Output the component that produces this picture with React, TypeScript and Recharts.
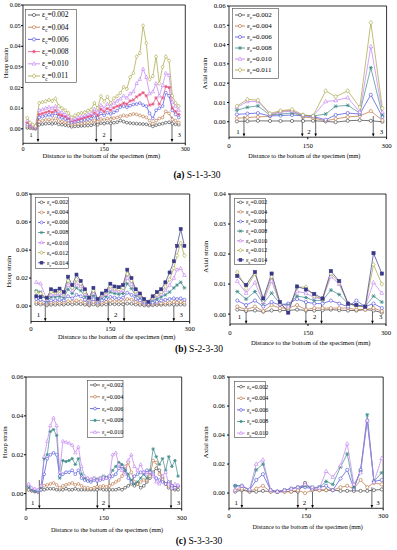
import React from 'react';
import { LineChart, Line, XAxis, YAxis, ReferenceLine, ReferenceDot, Legend } from 'recharts';

const FONT = '"Liberation Serif", "Times New Roman", Times, serif';

// ================= DATA =================
const xTicks = [0, 150, 300];
const zoneLabels = ['1', '2', '3'];
const xTitleText = 'Distance to the bottom of the specimen (mm)';
const captions = ['(a)', '(b)', '(c)'];
const specimenNames = ['S-1-3-30', 'S-2-3-30', 'S-3-3-30'];

// ---- (a) left: hoop strain S-1-3-30 ----
const aL_x = [8, 13, 18, 23, 30, 36, 42, 48, 54, 60, 66, 72, 78, 84, 90, 96, 102, 108, 114, 120, 126, 132, 138, 144, 150, 156, 162, 168, 174, 180, 186, 192, 198, 204, 210, 216, 222, 228, 234, 240, 246, 252, 258, 264, 270, 276, 282, 288];
const aL_e002 = [0.0005, 0.0004, 0.0002, 0, 0.002, 0.0023, 0.0025, 0.0027, 0.0024, 0.0028, 0.0022, 0.002, 0.0018, 0.0015, 0.001, 0.0012, 0.0013, 0.0014, 0.0015, 0.0016, 0.0017, 0.0023, 0.002, 0.0028, 0.0025, 0.003, 0.0027, 0.003, 0.0032, 0.004, 0.0035, 0.003, 0.0028, 0.0026, 0.0025, 0.0024, 0.0023, 0.0022, 0.0018, 0.0012, 0.0018, 0.0022, 0.0025, 0.003, 0.0032, 0.0025, 0.0022, 0.002];
const aL_e004 = [0.0012, 0.001, 0.0006, 0.0003, 0.0035, 0.004, 0.0043, 0.0046, 0.0042, 0.005, 0.0038, 0.0035, 0.0032, 0.0028, 0.002, 0.0023, 0.0025, 0.0027, 0.0029, 0.0031, 0.0033, 0.0042, 0.0035, 0.0048, 0.0043, 0.005, 0.0046, 0.0052, 0.0055, 0.006, 0.0065, 0.0062, 0.0068, 0.0072, 0.007, 0.0065, 0.006, 0.0055, 0.004, 0.0025, 0.004, 0.005, 0.0055, 0.0085, 0.0075, 0.0045, 0.004, 0.003];
const aL_e006 = [0.002, 0.0015, 0.001, 0.0005, 0.0055, 0.006, 0.0063, 0.0068, 0.0063, 0.0075, 0.0058, 0.0053, 0.0048, 0.004, 0.003, 0.0034, 0.0037, 0.004, 0.0043, 0.0047, 0.005, 0.0063, 0.0053, 0.0075, 0.0065, 0.0078, 0.0072, 0.008, 0.0088, 0.0105, 0.011, 0.0105, 0.0112, 0.0118, 0.012, 0.0125, 0.0115, 0.011, 0.0075, 0.005, 0.009, 0.01, 0.011, 0.0175, 0.016, 0.009, 0.007, 0.0055];
const aL_e008 = [0.003, 0.002, 0.0012, 0.0008, 0.007, 0.0075, 0.008, 0.0085, 0.008, 0.009, 0.007, 0.0065, 0.006, 0.005, 0.0038, 0.0042, 0.0046, 0.005, 0.0055, 0.006, 0.0063, 0.0078, 0.0065, 0.0095, 0.0083, 0.0098, 0.009, 0.0102, 0.011, 0.0115, 0.0125, 0.012, 0.0135, 0.014, 0.0155, 0.0165, 0.0175, 0.016, 0.0115, 0.012, 0.015, 0.012, 0.015, 0.0205, 0.02, 0.01, 0.0085, 0.007];
const aL_e010 = [0.004, 0.0025, 0.0015, 0.001, 0.009, 0.0095, 0.01, 0.0105, 0.01, 0.011, 0.0085, 0.008, 0.007, 0.006, 0.0045, 0.005, 0.0055, 0.006, 0.0065, 0.007, 0.0075, 0.0095, 0.008, 0.0115, 0.01, 0.012, 0.011, 0.0125, 0.0135, 0.0145, 0.016, 0.015, 0.017, 0.018, 0.022, 0.024, 0.029, 0.025, 0.017, 0.018, 0.022, 0.016, 0.021, 0.027, 0.026, 0.013, 0.011, 0.009];
const aL_e011 = [0.0053, 0.003, 0.002, 0.0013, 0.0125, 0.013, 0.0133, 0.014, 0.0135, 0.0147, 0.011, 0.01, 0.009, 0.0077, 0.0055, 0.0065, 0.0072, 0.0077, 0.008, 0.0088, 0.0093, 0.0125, 0.01, 0.0158, 0.0133, 0.0155, 0.0125, 0.0148, 0.0158, 0.0174, 0.0203, 0.0193, 0.025, 0.027, 0.035, 0.0367, 0.05, 0.0415, 0.024, 0.0255, 0.035, 0.022, 0.03, 0.035, 0.033, 0.016, 0.0125, 0.011];
const aL_arrows = [27.7, 135.5, 162.6, 275.4];
const aL_zoneX = [15, 150, 289];
const aL_yTicks = [0, 0.01, 0.02, 0.03, 0.04, 0.05, 0.06];

// ---- (a) right: axial strain S-1-3-30 ----
const aR_x = [15, 35, 55, 78, 98, 120, 141, 160, 184, 203, 226, 249, 270, 292];
const aR_e002 = [0.0002, 0.0003, 0.0005, 0.0004, 0.0004, 0.0004, 0.0004, 0.0005, 0.0002, -0.0002, 0.0005, 0.0008, 0.0005, 0];
const aR_e004 = [0.0018, 0.0022, 0.0025, 0.0028, 0.0055, 0.0058, 0.0025, 0.002, 0.0005, 0.0015, 0.0025, 0.003, 0.0055, 0.0008];
const aR_e006 = [0.0038, 0.0042, 0.0045, 0.003, 0.0032, 0.0035, 0.003, 0.0028, 0.001, 0.0035, 0.0045, 0.004, 0.014, 0.0025];
const aR_e008 = [0.006, 0.0075, 0.0082, 0.0035, 0.004, 0.0045, 0.0033, 0.003, 0.004, 0.008, 0.0085, 0.0045, 0.028, 0.0035];
const aR_e010 = [0.0075, 0.0105, 0.0105, 0.004, 0.005, 0.0055, 0.0035, 0.003, 0.0105, 0.011, 0.0125, 0.005, 0.039, 0.005];
const aR_e011 = [0.0081, 0.0116, 0.0112, 0.0043, 0.0057, 0.0064, 0.0035, 0.003, 0.016, 0.013, 0.016, 0.0075, 0.0514, 0.007];
const aR_arrows = [28.5, 139.5, 165, 274.6];
const aR_zoneX = [17, 152, 290];
const aR_yTicks = [0, 0.01, 0.02, 0.03, 0.04, 0.05, 0.06];

// ---- (b) left: hoop strain S-2-3-30 ----
const bL_x = [10, 18, 30, 38, 46, 54, 62, 70, 78, 86, 94, 102, 110, 118, 126, 134, 142, 150, 158, 166, 174, 182, 190, 198, 206, 214, 222, 230, 238, 246, 254, 262, 270, 276, 283, 290];
const bL_e002 = [0.0015, 0.0012, 0.0005, 0.001, 0.001, 0.0012, 0.001, 0.0015, 0.0012, 0.0016, 0.0014, 0.001, 0.0005, 0.0012, 0.0005, 0.001, 0.0012, 0.0015, 0.0013, 0.0013, 0.0013, 0.0018, 0.0016, 0.0011, 0.0009, 0.0005, 0.0003, 0.0006, 0.0008, 0.0009, 0.001, 0.001, 0.0011, 0.001, 0.0011, 0.001];
const bL_e004 = [0.003, 0.0025, 0.0015, 0.0025, 0.0025, 0.0025, 0.0025, 0.0035, 0.003, 0.004, 0.0035, 0.0025, 0.0015, 0.003, 0.0015, 0.0025, 0.003, 0.004, 0.0035, 0.0035, 0.0035, 0.005, 0.0045, 0.003, 0.0025, 0.0015, 0.001, 0.0015, 0.002, 0.002, 0.0025, 0.0025, 0.003, 0.0025, 0.003, 0.0025];
const bL_e006 = [0.005, 0.0045, 0.0025, 0.004, 0.004, 0.0045, 0.004, 0.007, 0.0055, 0.008, 0.007, 0.0045, 0.0025, 0.005, 0.0025, 0.004, 0.005, 0.0065, 0.006, 0.0055, 0.006, 0.0095, 0.008, 0.005, 0.004, 0.0025, 0.0015, 0.0025, 0.003, 0.004, 0.0045, 0.005, 0.0055, 0.005, 0.0055, 0.0045];
const bL_e008 = [0.011, 0.01, 0.0035, 0.0065, 0.0065, 0.007, 0.006, 0.012, 0.009, 0.013, 0.011, 0.007, 0.0035, 0.0075, 0.0035, 0.006, 0.007, 0.01, 0.009, 0.0085, 0.009, 0.016, 0.0125, 0.0075, 0.006, 0.0035, 0.0025, 0.004, 0.005, 0.0065, 0.008, 0.01, 0.013, 0.015, 0.017, 0.013];
const bL_e010 = [0.017, 0.016, 0.0045, 0.008, 0.008, 0.009, 0.0075, 0.015, 0.011, 0.016, 0.014, 0.0085, 0.004, 0.009, 0.004, 0.007, 0.0085, 0.012, 0.011, 0.0105, 0.011, 0.02, 0.0155, 0.009, 0.007, 0.004, 0.0025, 0.005, 0.007, 0.0085, 0.011, 0.015, 0.02, 0.026, 0.027, 0.022];
const bL_e012 = [0.01, 0.009, 0.0055, 0.01, 0.0095, 0.011, 0.009, 0.018, 0.013, 0.019, 0.016, 0.01, 0.005, 0.011, 0.0045, 0.008, 0.01, 0.014, 0.0125, 0.012, 0.013, 0.023, 0.018, 0.0105, 0.008, 0.0045, 0.003, 0.006, 0.008, 0.01, 0.014, 0.019, 0.027, 0.036, 0.045, 0.036];
const bL_e014 = [0.007, 0.0065, 0.006, 0.012, 0.011, 0.0125, 0.01, 0.021, 0.015, 0.0225, 0.018, 0.012, 0.006, 0.013, 0.005, 0.009, 0.011, 0.016, 0.014, 0.0135, 0.015, 0.026, 0.02, 0.012, 0.009, 0.005, 0.003, 0.007, 0.01, 0.012, 0.017, 0.024, 0.032, 0.043, 0.055, 0.043];
const bL_arrows = [27, 146, 176, 270];
const bL_zoneX = [14, 160, 284];
const bL_yTicks = [0, 0.02, 0.04, 0.06, 0.08];

// ---- (b) right: axial strain S-2-3-30 ----
const bR_x = [14, 31, 48, 64, 80, 96, 112, 129, 146, 162, 178, 194, 210, 227, 243, 260, 276, 292];
const bR_e002 = [0.0015, 0.001, 0.0012, 0.0008, 0.0012, 0.0012, 0.0012, 0.0015, 0.0012, 0.0012, 0.0013, 0.0015, 0.0013, 0.0012, 0.0012, 0.0015, 0.0012, 0.0005];
const bR_e004 = [0.0025, 0.0015, 0.0025, 0.001, 0.003, 0.002, 0.002, 0.003, 0.0015, 0.002, 0.002, 0.002, 0.002, 0.002, 0.0015, 0.0015, 0.002, 0.001];
const bR_e006 = [0.0045, 0.003, 0.0045, 0.0025, 0.004, 0.003, 0.0035, 0.005, 0.004, 0.0035, 0.0035, 0.0045, 0.0035, 0.0025, 0.0045, 0.0025, 0.0035, 0.002];
const bR_e008 = [0.0075, 0.005, 0.0075, 0.0035, 0.007, 0.0035, 0.003, 0.006, 0.0055, 0.0045, 0.0045, 0.008, 0.0065, 0.0035, 0.003, 0.0025, 0.006, 0.004];
const bR_e010 = [0.011, 0.007, 0.0105, 0.004, 0.011, 0.0035, 0.0025, 0.0075, 0.007, 0.0055, 0.005, 0.0125, 0.01, 0.0035, 0.003, 0.0025, 0.0105, 0.007];
const bR_e012 = [0.014, 0.0085, 0.0135, 0.0045, 0.0125, 0.0035, 0.001, 0.009, 0.009, 0.006, 0.005, 0.0135, 0.0105, 0.0035, 0.0025, 0.0025, 0.0165, 0.01];
const bR_e014 = [0.0127, 0.0097, 0.014, 0.0052, 0.0135, 0.004, 0.0005, 0.0092, 0.0082, 0.0067, 0.0052, 0.0143, 0.011, 0.0035, 0.003, 0.0025, 0.0203, 0.0135];
const bR_arrows = [31, 146, 176, 274];
const bR_zoneX = [18, 163, 290];
const bR_yTicks = [0, 0.01, 0.02, 0.03, 0.04];

// ---- (c) left: hoop strain S-3-3-30 ----
const cL_x = [5, 11, 17, 23, 29, 35, 41, 47, 53, 59, 65, 71, 77, 83, 89, 95, 101, 107, 113, 119, 125, 131, 137, 143, 149, 155, 161, 167, 173, 179, 185, 191, 197, 203, 209, 215, 221, 227, 233, 239, 245, 251, 257, 263, 269, 275, 281, 287, 293];
const cL_e002 = [0.002, 0.0015, 0.001, 0.001, 0.002, 0.002, 0.0025, 0.0025, 0.0025, 0.002, 0.002, 0.002, 0.0025, 0.002, 0.002, 0.0025, 0.002, 0.002, 0.002, 0.002, 0.002, 0.002, 0.002, 0.0025, 0.002, 0.002, 0.002, 0.002, 0.002, 0.0025, 0.002, 0.003, 0.004, 0.005, 0.004, 0.005, 0.003, 0.004, 0.006, 0.008, 0.011, 0.013, 0.012, 0.008, 0.005, 0.003, 0.0025, 0.002, 0.002];
const cL_e004 = [0.002, 0.0015, 0.0015, 0.001, 0.0025, 0.004, 0.0045, 0.005, 0.0055, 0.0045, 0.003, 0.004, 0.0045, 0.005, 0.0055, 0.0045, 0.005, 0.004, 0.003, 0.003, 0.0025, 0.003, 0.0035, 0.0035, 0.004, 0.0035, 0.004, 0.005, 0.006, 0.007, 0.009, 0.014, 0.016, 0.011, 0.006, 0.005, 0.006, 0.007, 0.007, 0.009, 0.017, 0.016, 0.01, 0.007, 0.005, 0.004, 0.004, 0.003, 0.0035];
const cL_e006 = [0.004, 0.002, 0.0015, 0.001, 0.002, 0.01, 0.018, 0.02, 0.021, 0.02, 0.009, 0.01, 0.011, 0.011, 0.012, 0.01, 0.012, 0.008, 0.007, 0.0065, 0.006, 0.007, 0.0065, 0.007, 0.0075, 0.008, 0.008, 0.009, 0.01, 0.013, 0.014, 0.012, 0.008, 0.006, 0.009, 0.01, 0.011, 0.011, 0.012, 0.011, 0.01, 0.008, 0.007, 0.006, 0.005, 0.006, 0.004, 0.003, 0.004];
const cL_e008 = [0.003, 0.002, 0.0015, 0.0015, 0.003, 0.018, 0.02, 0.032, 0.033, 0.03, 0.008, 0.017, 0.0165, 0.017, 0.018, 0.015, 0.018, 0.01, 0.008, 0.0075, 0.007, 0.008, 0.0075, 0.008, 0.009, 0.0085, 0.009, 0.012, 0.014, 0.016, 0.015, 0.012, 0.01, 0.007, 0.005, 0.006, 0.008, 0.01, 0.008, 0.012, 0.023, 0.019, 0.015, 0.018, 0.012, 0.019, 0.014, 0.017, 0.009];
const cL_e010 = [0.005, 0.003, 0.0025, 0.002, 0.004, 0.019, 0.027, 0.035, 0.039, 0.035, 0.011, 0.027, 0.0265, 0.026, 0.025, 0.021, 0.024, 0.014, 0.009, 0.008, 0.0075, 0.008, 0.007, 0.008, 0.0085, 0.008, 0.009, 0.02, 0.021, 0.015, 0.012, 0.01, 0.017, 0.02, 0.014, 0.012, 0.015, 0.011, 0.01, 0.011, 0.009, 0.006, 0.005, 0.009, 0.011, 0.005, 0.003, 0.005, 0.0045];
const cL_arrows = [25.7, 137.5, 160, 279.5];
const cL_zoneX = [12.8, 149, 293.6];
const cL_yTicks = [0, 0.02, 0.04, 0.06];

// ---- (c) right: axial strain S-3-3-30 ----
const cR_x = [12, 25, 40, 53, 66, 81, 94, 108, 121, 134, 148, 162, 176, 189, 202, 217, 230, 243, 256, 269, 282, 297];
const cR_e002 = [0.001, 0.002, 0.001, 0.001, 0.0015, 0.001, 0.0008, 0.001, 0.001, 0.001, 0.007, 0.002, 0.002, 0.002, 0.002, 0.0015, 0.0015, 0.0015, 0.0015, 0.0015, 0.002, 0.0025];
const cR_e004 = [0.002, 0.003, 0.001, 0.003, 0.005, 0.001, 0.001, 0.001, 0.001, 0.002, 0, 0.002, 0.002, 0.002, 0.002, 0.004, 0.005, 0.003, 0.009, 0.004, 0.007, 0.006];
const cR_e006 = [0.005, 0.005, 0.002, 0.009, 0.013, 0.002, 0.001, 0.002, 0.003, 0.004, 0.004, 0.003, 0.004, 0.005, 0.002, 0.01, 0.016, 0.003, 0.016, 0.05, 0.008, 0.009];
const cR_e008 = [0.005, 0.005, 0.002, 0.016, 0.02, 0.002, 0.001, 0.002, 0.003, 0.004, 0.005, 0.004, 0.004, 0.008, 0.006, 0.018, 0.027, 0.004, 0.015, 0.054, 0.008, 0.014];
const cR_e010 = [0.002, 0.005, 0.0025, 0.02, 0.023, 0.002, 0.001, 0.002, 0.003, 0.004, 0.006, 0.004, 0.0035, 0.015, 0.011, 0.019, 0.034, 0.006, 0.014, 0.05, 0.0076, 0.024];
const cR_arrows = [25, 134, 162.5, 278];
const cR_zoneX = [13.8, 147, 290];
const cR_yTicks = [0, 0.02, 0.04, 0.06, 0.08];

// ================= STYLES =================
const STY: Record<string, { label: string; color: string; shape: string }> = {
  e002: { label: '0.002', color: '#3a3a3a', shape: 'circle' },
  e004: { label: '0.004', color: '#b86e3e', shape: 'circle' },
  e006: { label: '0.006', color: '#4848dc', shape: 'circle' },
  e008: { label: '0.008', color: '#3f8a8a', shape: 'star' },
  e010: { label: '0.010', color: '#c07cf2', shape: 'triangle' },
  e011: { label: '0.011', color: '#a4a23c', shape: 'diamond' },
  e012: { label: '0.012', color: '#a4a23c', shape: 'diamond' },
  e014: { label: '0.014', color: '#38388a', shape: 'square' },
};

function rows(x: number[], cols: Record<string, number[]>) {
  return x.map((xv, i) => {
    const r: any = { x: xv };
    Object.keys(cols).forEach((k) => { r[k] = cols[k][i]; });
    return r;
  });
}

function mkSeries(keys: string[], over: Record<string, string> = {}) {
  return keys.map((k) => ({ key: k, label: STY[k].label, shape: STY[k].shape, color: over[k] || STY[k].color }));
}

function Marker({ cx, cy, shape, color, s = 1.6 }: any) {
  if (cx == null || cy == null || isNaN(cx) || isNaN(cy)) return null;
  const sw = 0.6;
  if (shape === 'circle') return <circle cx={cx} cy={cy} r={s} fill="#fff" stroke={color} strokeWidth={sw} />;
  if (shape === 'triangle')
    return <polygon points={`${cx},${cy - s * 1.3} ${cx - s * 1.2},${cy + s * 0.8} ${cx + s * 1.2},${cy + s * 0.8}`} fill="#fff" stroke={color} strokeWidth={sw} />;
  if (shape === 'diamond')
    return <polygon points={`${cx},${cy - s * 1.4} ${cx + s * 1.1},${cy} ${cx},${cy + s * 1.4} ${cx - s * 1.1},${cy}`} fill="#fff" stroke={color} strokeWidth={sw} />;
  if (shape === 'square') return <rect x={cx - s} y={cy - s} width={2 * s} height={2 * s} fill={color} stroke={color} strokeWidth={sw} />;
  const r = s * 1.3;
  return (
    <g stroke={color} strokeWidth={0.8}>
      <line x1={cx - r} x2={cx + r} y1={cy} y2={cy} />
      <line x1={cx - r * 0.5} x2={cx + r * 0.5} y1={cy - r * 0.87} y2={cy + r * 0.87} />
      <line x1={cx + r * 0.5} x2={cx - r * 0.5} y1={cy - r * 0.87} y2={cy + r * 0.87} />
    </g>
  );
}

function LegendBox({ series, lg }: any) {
  const fs = lg.fontSize;
  return (
    <svg width={lg.w} height={lg.h} style={{ display: 'block', overflow: 'visible' }}>
      <rect x={0.5} y={0.5} width={lg.w - 1} height={lg.h - 1} fill="#fff" stroke="#444" strokeWidth={0.6} />
      {series.map((s: any, i: number) => {
        const y = lg.first + i * lg.gap;
        return (
          <g key={s.key}>
            <line x1={3} x2={3 + lg.sample} y1={y} y2={y} stroke={s.color} strokeWidth={0.8} />
            <Marker cx={3 + lg.sample / 2} cy={y} shape={s.shape} color={s.color} s={lg.ms} />
            <text x={lg.sample + 5} y={y + fs * 0.33} fontSize={fs} fontFamily={FONT} fill="#000">
              ε<tspan fontSize={fs * 0.7} dy={fs * 0.3}>c</tspan>
              <tspan dy={-fs * 0.3}>={s.label}</tspan>
            </text>
          </g>
        );
      })}
    </svg>
  );
}

const YW = 34, MT = 5, MR = 10, XH = 28;

function Panel({ cfg }: any) {
  const p = cfg.plot;
  const left = p.l - YW;
  const top = p.t - MT;
  const W = p.r - p.l + YW + MR;
  const H = p.b - p.t + MT + XH;
  const [y0, y1] = cfg.yDomain;
  const tickStyle = { fontSize: cfg.tickFont, fontFamily: FONT, fill: '#000' };
  const arrowShape = (sp: any) => {
    const x = sp.x1;
    const ya = Math.min(sp.y1, sp.y2);
    const yb = Math.max(sp.y1, sp.y2);
    return (
      <g>
        <line x1={x} x2={x} y1={ya} y2={yb - 2} stroke="#000" strokeWidth={0.6} />
        <polygon points={`${x - 1.3},${yb - 3.2} ${x + 1.3},${yb - 3.2} ${x},${yb}`} fill="#000" />
      </g>
    );
  };
  return (
    <div style={{ position: 'absolute', left, top, width: W, height: H }}>
      <LineChart width={W} height={H} data={cfg.data} margin={{ top: MT, right: MR, left: 0, bottom: 0 }}>
        <XAxis
          dataKey="x" type="number" domain={[0, 300]} ticks={xTicks} interval={0} allowDataOverflow
          height={XH} tickSize={2} tickMargin={cfg.xTickGap}
          axisLine={{ stroke: '#000', strokeWidth: 0.8 }} tickLine={{ stroke: '#000' }} tick={tickStyle}
          label={{
            content: () => (
              <text x={cfg.xTitle.cx - left} y={cfg.xTitle.cy - top} dy="0.35em" textAnchor="middle" fontSize={cfg.xTitle.size} fontFamily={FONT} fill="#000">
                {xTitleText}
              </text>
            ),
          }}
        />
        <YAxis
          type="number" domain={cfg.yDomain} ticks={cfg.yTicks} interval={0} allowDataOverflow
          width={YW} tickSize={2} tickMargin={cfg.yTickGap}
          axisLine={{ stroke: '#000', strokeWidth: 0.8 }} tickLine={{ stroke: '#000' }} tick={tickStyle}
          tickFormatter={(v: number) => v.toFixed(2)}
          label={{
            content: () => {
              const tx = cfg.yTitle.x - left;
              const ty = cfg.yTitle.cy - top;
              return (
                <text x={tx} y={ty} dy="0.35em" textAnchor="middle" fontSize={cfg.yTitle.size} fontFamily={FONT} fill="#000" transform={`rotate(-90 ${tx} ${ty})`}>
                  {cfg.yTitle.text}
                </text>
              );
            },
          }}
        />
        <ReferenceLine y={y1} stroke="#000" strokeWidth={0.8} />
        <ReferenceLine x={300} stroke="#000" strokeWidth={0.8} />
        {cfg.arrows.map((ax: number, i: number) => (
          <ReferenceLine key={`ar${i}`} segment={[{ x: ax, y: cfg.arrowTop }, { x: ax, y: cfg.arrowBot }]} shape={arrowShape} />
        ))}
        {cfg.zoneX.map((zx: number, i: number) => (
          <ReferenceDot key={`zn${i}`} x={zx} y={cfg.zoneY} r={0} fill="none" stroke="none"
            label={{ value: zoneLabels[i], position: 'center', fontSize: cfg.tickFont, fontFamily: FONT, fill: '#000' }} />
        ))}
        {cfg.series.map((s: any) => (
          <Line
            key={s.key} dataKey={s.key} type="linear" stroke={s.color} strokeWidth={0.7}
            isAnimationActive={false} activeDot={false}
            dot={(d: any) => <Marker key={`${s.key}-${d.index}`} cx={d.cx} cy={d.cy} shape={s.shape} color={s.color} s={cfg.ms} />}
          />
        ))}
        <Legend
          layout="vertical" align="center" verticalAlign="middle"
          wrapperStyle={{ left: cfg.legend.l - left, top: cfg.legend.t - top, width: cfg.legend.w, height: cfg.legend.h }}
          content={() => <LegendBox series={cfg.series} lg={cfg.legend} />}
        />
      </LineChart>
    </div>
  );
}

const keysA = ['e002', 'e004', 'e006', 'e008', 'e010', 'e011'];
const keysB = ['e002', 'e004', 'e006', 'e008', 'e010', 'e012', 'e014'];
const keysC = ['e002', 'e004', 'e006', 'e008', 'e010'];

const panels = [
  {
    id: 'aL', plot: { l: 22.7, r: 185, t: 5, b: 143.3 }, yDomain: [-0.007, 0.06], yTicks: aL_yTicks,
    data: rows(aL_x, { e002: aL_e002, e004: aL_e004, e006: aL_e006, e008: aL_e008, e010: aL_e010, e011: aL_e011 }),
    series: mkSeries(keysA, { e008: '#e4507c' }),
    tickFont: 6.2, xTickGap: 1, yTickGap: 0.3, ms: 1.4,
    yTitle: { text: 'Hoop strain', x: 5.3, cy: 63, size: 6.5 },
    xTitle: { cx: 101, cy: 156, size: 6.5 },
    arrows: aL_arrows, arrowTop: 0.006, arrowBot: -0.0065, zoneX: aL_zoneX, zoneY: -0.003,
    legend: { l: 25, t: 9, w: 52, h: 74, first: 6, gap: 12.2, fontSize: 7.5, sample: 12, ms: 1.6 },
  },
  {
    id: 'aR', plot: { l: 228.7, r: 386.3, t: 5.5, b: 136.7 }, yDomain: [-0.008, 0.06], yTicks: aR_yTicks,
    data: rows(aR_x, { e002: aR_e002, e004: aR_e004, e006: aR_e006, e008: aR_e008, e010: aR_e010, e011: aR_e011 }),
    series: mkSeries(keysA),
    tickFont: 6.8, xTickGap: 4, yTickGap: 1.4, ms: 1.6,
    yTitle: { text: 'Axial strain', x: 204.3, cy: 73, size: 6.8 },
    xTitle: { cx: 304, cy: 155, size: 6.2 },
    arrows: aR_arrows, arrowTop: 0.003, arrowBot: -0.0078, zoneX: aR_zoneX, zoneY: -0.005,
    legend: { l: 232, t: 8, w: 47, h: 71, first: 7, gap: 11, fontSize: 7, sample: 10, ms: 1.6 },
  },
  {
    id: 'bL', plot: { l: 31.3, r: 190, t: 194, b: 321.5 }, yDomain: [-0.011, 0.08], yTicks: bL_yTicks,
    data: rows(bL_x, { e002: bL_e002, e004: bL_e004, e006: bL_e006, e008: bL_e008, e010: bL_e010, e012: bL_e012, e014: bL_e014 }),
    series: mkSeries(keysB),
    tickFont: 6.8, xTickGap: 3, yTickGap: 1, ms: 1.5,
    yTitle: { text: 'Hoop strain', x: 9.3, cy: 271.7, size: 6.8 },
    xTitle: { cx: 117, cy: 336.7, size: 6.5 },
    arrows: bL_arrows, arrowTop: 0.003, arrowBot: -0.011, zoneX: bL_zoneX, zoneY: -0.0062,
    legend: { l: 35, t: 197, w: 34, h: 72, first: 5.3, gap: 10.07, fontSize: 6, sample: 7, ms: 1.4 },
  },
  {
    id: 'bR', plot: { l: 230.3, r: 386.3, t: 194, b: 324 }, yDomain: [-0.0033, 0.04], yTicks: bR_yTicks,
    data: rows(bR_x, { e002: bR_e002, e004: bR_e004, e006: bR_e006, e008: bR_e008, e010: bR_e010, e012: bR_e012, e014: bR_e014 }),
    series: mkSeries(keysB),
    tickFont: 6.8, xTickGap: 3.8, yTickGap: 2, ms: 1.6,
    yTitle: { text: 'Axial strain', x: 206.3, cy: 256.7, size: 6.8 },
    xTitle: { cx: 311, cy: 342.7, size: 6.6 },
    arrows: bR_arrows, arrowTop: 0.0035, arrowBot: -0.0033, zoneX: bR_zoneX, zoneY: -0.0008,
    legend: { l: 233.7, t: 198, w: 32, h: 67, first: 4.3, gap: 9.6, fontSize: 6, sample: 7, ms: 1.4 },
  },
  {
    id: 'cL', plot: { l: 26, r: 181.7, t: 376.7, b: 508.3 }, yDomain: [-0.0077, 0.06], yTicks: cL_yTicks,
    data: rows(cL_x, { e002: cL_e002, e004: cL_e004, e006: cL_e006, e008: cL_e008, e010: cL_e010 }),
    series: mkSeries(keysC),
    tickFont: 6.8, xTickGap: 4.5, yTickGap: 0.7, ms: 1.4,
    yTitle: { text: 'Hoop strain', x: 4.5, cy: 442, size: 6.8 },
    xTitle: { cx: 107, cy: 530, size: 6.2 },
    arrows: cL_arrows, arrowTop: 0.007, arrowBot: -0.0077, zoneX: cL_zoneX, zoneY: -0.0045,
    legend: { l: 87.3, t: 380, w: 36.5, h: 58, first: 5, gap: 11.8, fontSize: 6, sample: 10, ms: 1.4 },
  },
  {
    id: 'cR', plot: { l: 229.3, r: 383.5, t: 376.7, b: 508 }, yDomain: [-0.0105, 0.08], yTicks: cR_yTicks,
    data: rows(cR_x, { e002: cR_e002, e004: cR_e004, e006: cR_e006, e008: cR_e008, e010: cR_e010 }),
    series: mkSeries(keysC),
    tickFont: 6.8, xTickGap: 3.2, yTickGap: 2, ms: 1.6,
    yTitle: { text: 'Axial strain', x: 206.3, cy: 442, size: 6.8 },
    xTitle: { cx: 308, cy: 526.7, size: 6.1 },
    arrows: cR_arrows, arrowTop: 0.004, arrowBot: -0.0105, zoneX: cR_zoneX, zoneY: -0.0065,
    legend: { l: 233.7, t: 381, w: 32, h: 57, first: 5.7, gap: 11.6, fontSize: 6, sample: 8, ms: 1.4 },
  },
];

const captionPos = [
  { cx: 197, cy: 176 },
  { cx: 199, cy: 350 },
  { cx: 199, cy: 542 },
];

export default function App() {
  return (
    <div style={{ position: 'absolute', left: 0, top: 0, width: 397, height: 550, background: '#fff', overflow: 'hidden', fontFamily: FONT }}>
      {panels.map((cfg) => (
        <Panel key={cfg.id} cfg={cfg} />
      ))}
      {captionPos.map((c, i) => (
        <div
          key={i}
          style={{ position: 'absolute', left: c.cx, top: c.cy, transform: 'translate(-50%, -50%)', fontSize: 9.5, whiteSpace: 'nowrap', color: '#000', lineHeight: 1 }}
        >
          <b>{captions[i]}</b> {specimenNames[i]}
        </div>
      ))}
    </div>
  );
}
